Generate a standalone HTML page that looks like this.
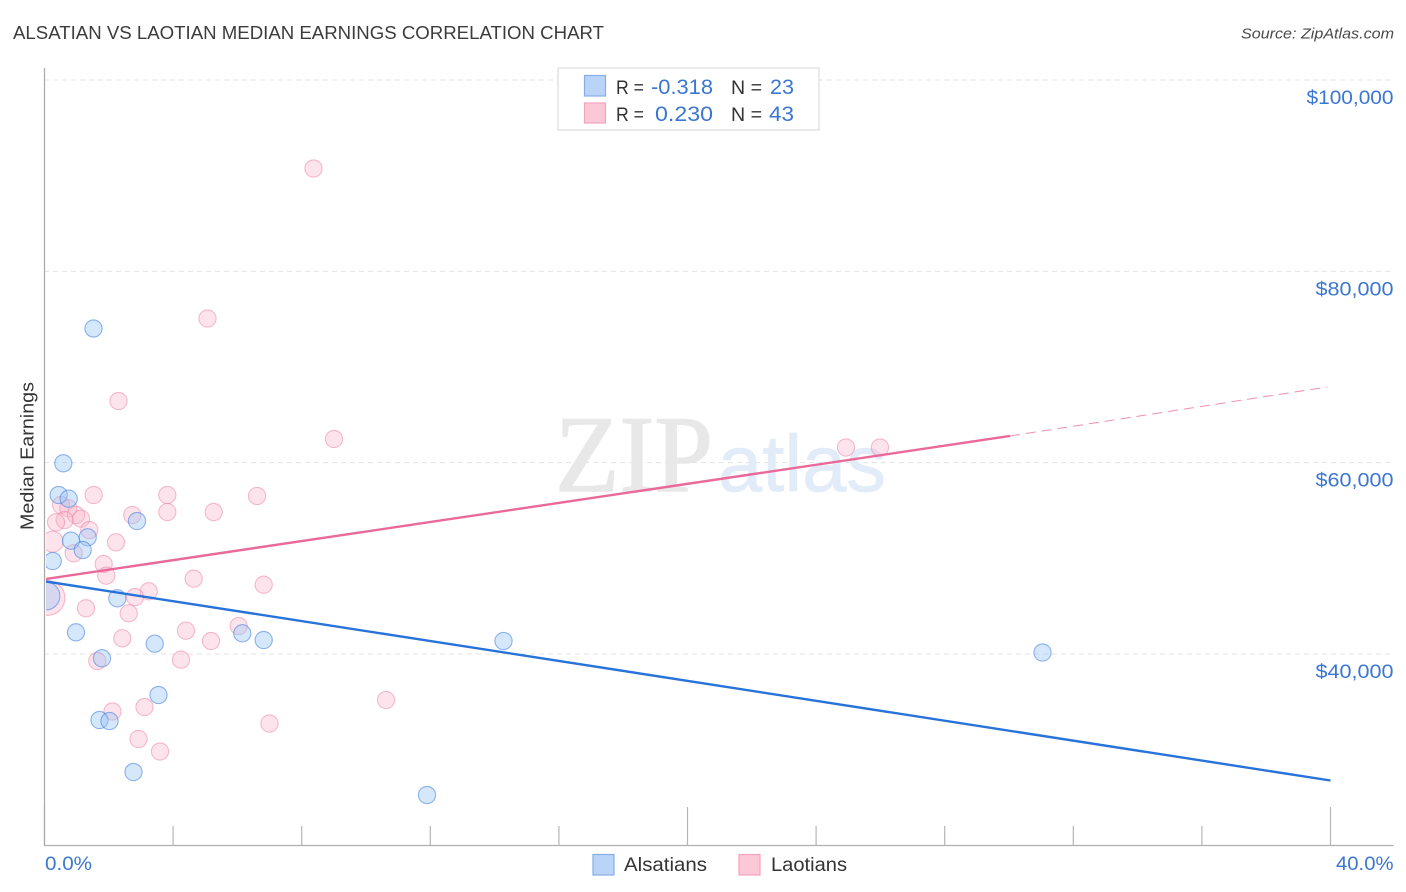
<!DOCTYPE html>
<html lang="en">
<head>
<meta charset="utf-8">
<title>Alsatian vs Laotian Median Earnings Correlation Chart</title>
<style>
html,body{margin:0;padding:0;background:#fff;width:1406px;height:892px;overflow:hidden}
svg{display:block}
text{font-family:"Liberation Sans",sans-serif}
</style>
</head>
<body>
<svg id="chart" width="1406" height="892" viewBox="0 0 1406 892" xmlns="http://www.w3.org/2000/svg">
  <defs><clipPath id="plot-clip"><rect x="46" y="60" width="1350" height="785"/></clipPath></defs>
  <text x="13" y="39" font-size="18" fill="#3c3c3c" textLength="591" lengthAdjust="spacingAndGlyphs">ALSATIAN VS LAOTIAN MEDIAN EARNINGS CORRELATION CHART</text>
  <text x="1241" y="38.5" font-size="15" font-style="italic" fill="#4a4a4a" textLength="153" lengthAdjust="spacingAndGlyphs">Source: ZipAtlas.com</text>
  <g id="grid"></g>
  <g>
    <text x="555" y="491" font-size="109" fill="#e8e8e8" stroke="#e8e8e8" stroke-width="1.4" textLength="158" lengthAdjust="spacingAndGlyphs" style="font-family:'Liberation Serif',serif">ZIP</text>
    <text x="718" y="491" font-size="80" fill="#e2ecf9" stroke="#e2ecf9" stroke-width="0.8" textLength="168" lengthAdjust="spacingAndGlyphs">atlas</text>
  </g>
  <g id="axes"></g>
  <g id="marks" clip-path="url(#plot-clip)"></g>
  <g id="trends" clip-path="url(#plot-clip)"></g>
  <text transform="translate(33.5,530) rotate(-90)" font-size="18.5" fill="#333" textLength="148" lengthAdjust="spacingAndGlyphs">Median Earnings</text>
  <g>
    <rect x="558" y="68" width="261" height="62" fill="#fff" stroke="#ddd" stroke-width="1.2"/>
    <rect x="584.5" y="75.5" width="21" height="20.5" fill="#b9d4f7" stroke="#86aee6" stroke-width="1.2"/>
    <rect x="584.5" y="103" width="21" height="20" fill="#fcc8d8" stroke="#f2a3bd" stroke-width="1.2"/>
    <text x="616" y="94" font-size="19.5" fill="#333" textLength="28" lengthAdjust="spacingAndGlyphs">R =</text>
    <text x="651" y="94" font-size="21" fill="#3a76d2" textLength="62" lengthAdjust="spacingAndGlyphs">-0.318</text>
    <text x="731" y="94" font-size="19.5" fill="#333" textLength="31" lengthAdjust="spacingAndGlyphs">N =</text>
    <text x="770" y="94" font-size="21" fill="#3a76d2" textLength="24" lengthAdjust="spacingAndGlyphs">23</text>
    <text x="616" y="121" font-size="19.5" fill="#333" textLength="28" lengthAdjust="spacingAndGlyphs">R =</text>
    <text x="655" y="121" font-size="21" fill="#3a76d2" textLength="58" lengthAdjust="spacingAndGlyphs">0.230</text>
    <text x="731" y="121" font-size="19.5" fill="#333" textLength="31" lengthAdjust="spacingAndGlyphs">N =</text>
    <text x="769" y="121" font-size="21" fill="#3a76d2" textLength="25" lengthAdjust="spacingAndGlyphs">43</text>
  </g>
  <g>
    <rect x="593" y="854.5" width="21" height="20.5" fill="#b9d4f7" stroke="#86aee6" stroke-width="1.2"/>
    <text x="624" y="871" font-size="19.5" fill="#333" textLength="83" lengthAdjust="spacingAndGlyphs">Alsatians</text>
    <rect x="739" y="854.5" width="21" height="20.5" fill="#fcc8d8" stroke="#f2a3bd" stroke-width="1.2"/>
    <text x="771" y="871" font-size="19.5" fill="#333" textLength="76" lengthAdjust="spacingAndGlyphs">Laotians</text>
  </g>
</svg>
<script>
const yTicks = [100000, 80000, 60000, 40000];
const yTickLabels = ["$100,000", "$80,000", "$60,000", "$40,000"];
const xTicks = [0, 4, 8, 12, 16, 20, 24, 28, 32, 36, 40];
const xMajorTicks = [0, 20, 40];
const xEndLabels = ["0.0%", "40.0%"];

const alsatianX = [1.524,0.585,0.442,0.753,2.877,0.824,1.344,1.188,0.255,0.047,2.264,0.980,3.428,6.152,6.818,14.277,31.042,1.788,3.546,1.711,2.022,2.768,11.897];
const alsatianY = [74025,59934,56620,56234,53902,51843,52199,50871,49721,46063,45822,42268,41077,42164,41463,41359,40157,39551,35714,33101,32996,27665,25261];
const alsatianWeight = [1,1,1,1,1,1,1,1,1,2.6,1,1,1,1,1,1,1,1,1,1,1,1,1];

const laotianX = [8.367,5.070,2.302,9.005,24.930,25.987,1.530,3.820,6.610,0.513,0.740,3.820,5.263,2.731,0.980,0.628,1.135,0.358,1.393,0.255,2.224,0.908,1.841,1.922,4.641,6.818,3.241,2.815,0.093,1.291,2.619,6.040,4.401,2.420,5.179,1.642,4.246,10.622,3.110,2.115,6.998,2.924,3.593];
const laotianY = [90749,75070,66446,62474,61585,61585,56620,56620,56516,55575,55230,54843,54843,54530,54530,54007,54143,53767,52962,51739,51676,50526,49408,48185,47871,47244,46554,45958,45854,44777,44254,42927,42436,41641,41359,39268,39404,35192,34460,33990,32735,31115,29808];
const laotianWeight = [1,1,1,1,1,1,1,1,1,1,1,1,1,1,1,1,1,1,1,1.5,1,1,1,1,1,1,1,1,4.1,1,1,1,1,1,1,1,1,1,1,1,1,1,1];

const alsatianTrendX = [0.047, 40];
const alsatianTrendY = [47580, 26777];
const laotianTrendX = [0.047, 30.03];
const laotianTrendY = [47840, 62788];
const laotianForecastX = [30.03, 39.9];
const laotianForecastY = [62788, 67910];

const NS = "http://www.w3.org/2000/svg";
const xScale = function (v) { return 44.5 + v * (1286 / 40); };
const yScale = function (v) { return 654 - (v - 40000) * (574 / 60000); };
const radiusOf = function (w) { return 8.6 * Math.sqrt(w); };

function make(parent, tag, props) {
  const el = document.createElementNS(NS, tag);
  Object.keys(props).forEach(function (k) { el.setAttribute(k, props[k]); });
  parent.appendChild(el);
  return el;
}

const gridG = document.getElementById("grid");
const axesG = document.getElementById("axes");
const marksG = document.getElementById("marks");
const trendsG = document.getElementById("trends");

yTicks.forEach(function (t, i) {
  const y = yScale(t);
  const line = make(gridG, "line", { x1: 44, x2: 1393, y1: y, y2: y, stroke: "#e3e3e3", "stroke-width": 1, "stroke-dasharray": "5 4" });
  
  
  const label = make(axesG, "text", { x: 1393.5, y: y + 24, "text-anchor": "end", "font-size": 19.5, fill: "#3a76d2", textLength: i === 0 ? 87 : 78, lengthAdjust: "spacingAndGlyphs" });
  label.textContent = yTickLabels[i];
  
  
});

xTicks.forEach(function (t) {
  const x = xScale(t);
  const top = xMajorTicks.indexOf(t) >= 0 ? 807 : 826;
  const tick = make(axesG, "line", { x1: x, x2: x, y1: top, y2: 845.5, stroke: "#b5b5b5", "stroke-width": 1.2 });
  
  
});

const xAxisLine = make(axesG, "line", { x1: 44, x2: 1393.5, y1: 845.5, y2: 845.5, stroke: "#b0b0b0", "stroke-width": 1.2 });


const yAxisLine = make(axesG, "line", { x1: 44.5, x2: 44.5, y1: 68, y2: 846, stroke: "#a8a8a8", "stroke-width": 1.2 });



const xLabelStart = make(axesG, "text", { x: 45, y: 870, "font-size": 19, fill: "#3a76d2", textLength: 47, lengthAdjust: "spacingAndGlyphs" });
xLabelStart.textContent = xEndLabels[0];


const xLabelEnd = make(axesG, "text", { x: 1336, y: 870, "font-size": 19, fill: "#3a76d2", textLength: 57.5, lengthAdjust: "spacingAndGlyphs" });
xLabelEnd.textContent = xEndLabels[1];



laotianX.forEach(function (v, i) {
  const dot = make(marksG, "circle", { cx: xScale(v), cy: yScale(laotianY[i]), r: radiusOf(laotianWeight[i]), fill: "rgba(248,175,198,0.34)", stroke: "rgba(236,135,168,0.55)", "stroke-width": 1.1 });
  
  
});
alsatianX.forEach(function (v, i) {
  const dot = make(marksG, "circle", { cx: xScale(v), cy: yScale(alsatianY[i]), r: radiusOf(alsatianWeight[i]), fill: "rgba(150,195,245,0.4)", stroke: "rgba(70,130,220,0.58)", "stroke-width": 1.1 });
  
  
});

const blueTrend = make(trendsG, "line", { x1: xScale(alsatianTrendX[0]), y1: yScale(alsatianTrendY[0]), x2: xScale(alsatianTrendX[1]), y2: yScale(alsatianTrendY[1]), stroke: "#2873d9", "stroke-width": 2.4 });


const pinkTrend = make(trendsG, "line", { x1: xScale(laotianTrendX[0]), y1: yScale(laotianTrendY[0]), x2: xScale(laotianTrendX[1]), y2: yScale(laotianTrendY[1]), stroke: "#e9699a", "stroke-width": 2.4 });


const pinkForecast = make(trendsG, "line", { x1: xScale(laotianForecastX[0]), y1: yScale(laotianForecastY[0]), x2: xScale(laotianForecastX[1]), y2: yScale(laotianForecastY[1]), stroke: "#e9699a", "stroke-width": 1, "stroke-opacity": 0.75, "stroke-dasharray": "10 6" });


</script>
</body>
</html>
